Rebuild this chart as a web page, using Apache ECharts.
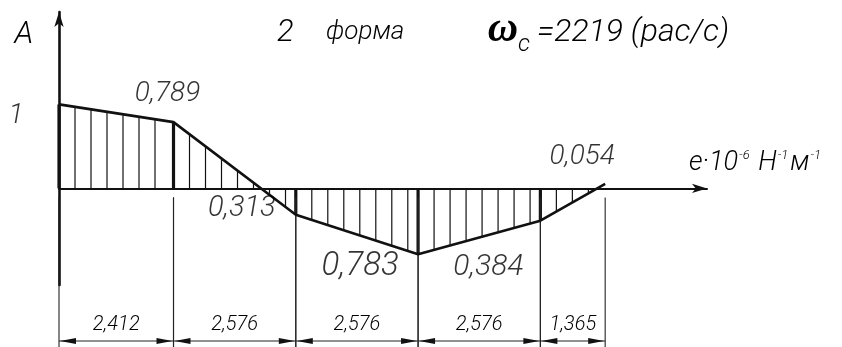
<!DOCTYPE html>
<html>
<head>
<meta charset="utf-8">
<script src="https://cdn.jsdelivr.net/npm/echarts@6/dist/echarts.min.js"></script>
<style>
  html, body { margin: 0; padding: 0; background: #fff; }
  #chart { width: 842px; height: 347px; }
</style>
</head>
<body>
<div id="chart"></div>
<script>
// Lengths of the shaft sections, in order from the left support
const segmentLengths = [2.412, 2.576, 2.576, 2.576, 1.365];
// Relative amplitude of the 2nd natural mode at each section boundary
const amplitudes = [1, 0.789, -0.313, -0.783, -0.384, 0.054];
// Natural frequency of this mode, rad/s
const omegaC = 2219;

// Section boundaries along the shaft axis
const stations = [0];
segmentLengths.forEach(function (len, i) { stations.push(+(stations[i] + len).toFixed(3)); });

const LINE = '#111';
const TEXT = '#000';
const FONT = 'Roboto, "Liberation Sans", sans-serif';
const NARROW = '"Liberation Sans Narrow", Roboto, sans-serif';

// Where each amplitude label sits relative to its point
const labelLayout = [
  { dx: -43, dy: 12, size: 28 },
  { dx: -6, dy: -28, size: 28 },
  { dx: -54, dy: -6, size: 29 },
  { dx: -58, dy: 13, size: 33 },
  { dx: -52, dy: 47, size: 30 },
  { dx: -23, dy: -27, size: 28 }
];

function fmt(v) {
  const a = Math.abs(v);
  return a === 1 ? '1' : a.toFixed(3).replace('.', ',');
}

const curveData = amplitudes.map(function (a, i) { return [stations[i], a]; });
const labelData = amplitudes.map(function (a, i) {
  const l = labelLayout[i];
  return {
    value: [stations[i], a],
    label: { offset: [l.dx, l.dy], fontSize: l.size }
  };
});
const segData = segmentLengths.map(function (len, i) {
  return [stations[i], amplitudes[i], stations[i + 1], amplitudes[i + 1], len];
});

const chart = echarts.init(document.getElementById('chart'), null, { renderer: 'canvas' });

// Vertical hatching inside the mode-shape area, plus thick lines at section boundaries
function renderHatch(params, api) {
  const xs = api.value(0), as = api.value(1), xe = api.value(2), ae = api.value(3);
  const p0 = api.coord([xs, as]);
  const p1 = api.coord([xe, ae]);
  const base = api.coord([xs, 0])[1];
  const step = 16;
  const children = [];
  for (let x = p0[0] + step; x < p1[0] - 5; x += step) {
    const t = (x - p0[0]) / (p1[0] - p0[0]);
    const y = p0[1] + t * (p1[1] - p0[1]);
    children.push({
      type: 'line',
      shape: { x1: x, y1: base, x2: x, y2: y },
      style: { stroke: LINE, lineWidth: 1.2 }
    });
  }
  children.push({
    type: 'line',
    shape: { x1: p0[0], y1: base, x2: p0[0], y2: p0[1] },
    style: { stroke: LINE, lineWidth: 3.2 }
  });
  return { type: 'group', children: children };
}

// Dimension chain under the diagram
function renderDims(params, api) {
  const xs = api.value(0), xe = api.value(2), len = api.value(4);
  const a = api.coord([xs, 0]);
  const b = api.coord([xe, 0]);
  const base = a[1];
  const dimY = 341, extTop = base + 9, extBottom = 347;
  const ah = 16, aw = 3;
  const children = [
    { type: 'line', shape: { x1: a[0], y1: extTop, x2: a[0], y2: extBottom }, style: { stroke: '#222', lineWidth: 1.1 } },
    { type: 'line', shape: { x1: b[0], y1: extTop, x2: b[0], y2: extBottom }, style: { stroke: '#222', lineWidth: 1.1 } },
    { type: 'line', shape: { x1: a[0], y1: dimY, x2: b[0], y2: dimY }, style: { stroke: '#222', lineWidth: 1.1 } },
    { type: 'polygon', shape: { points: [[a[0] + 1, dimY], [a[0] + 1 + ah, dimY - aw], [a[0] + 1 + ah, dimY + aw]] }, style: { fill: LINE } },
    { type: 'polygon', shape: { points: [[b[0] - 1, dimY], [b[0] - 1 - ah, dimY - aw], [b[0] - 1 - ah, dimY + aw]] }, style: { fill: LINE } },
    {
      type: 'text',
      style: {
        text: len.toFixed(3).replace('.', ','),
        x: (a[0] + b[0]) / 2, y: 325,
        align: 'center', verticalAlign: 'middle',
        textAlign: 'center', textVerticalAlign: 'middle',
        fontFamily: NARROW, fontStyle: 'italic', fontWeight: 300, fontSize: 20, fill: TEXT
      }
    }
  ];
  return { type: 'group', children: children };
}

function txt(text, x, y, size, align, extra) {
  const style = {
    text: text, x: x, y: y,
    align: align, verticalAlign: 'middle', textAlign: align, textVerticalAlign: 'middle',
    fontFamily: FONT, fontStyle: 'italic', fontWeight: 300, fontSize: size, fill: TEXT
  };
  if (extra) Object.assign(style, extra);
  return { type: 'text', style: style };
}

const option = {
  animation: false,
  backgroundColor: '#fff',
  grid: { left: 59, right: 135, top: 12, bottom: 62 },
  xAxis: {
    type: 'value', min: 0, max: 13.65,
    axisLine: {
      onZero: true, symbol: ['none', 'arrow'], symbolSize: [7, 15],
      lineStyle: { color: LINE, width: 2 }
    },
    axisTick: { show: false }, axisLabel: { show: false }, splitLine: { show: false }
  },
  yAxis: {
    type: 'value', min: -1.15, max: 2.1,
    axisLine: {
      show: true, onZero: true, symbol: ['none', 'arrow'], symbolSize: [7, 15],
      lineStyle: { color: LINE, width: 2.6 }
    },
    axisTick: { show: false }, axisLabel: { show: false }, splitLine: { show: false }
  },
  graphic: [
    txt('A', 24, 35, 31, 'center'),
    txt('2', 277, 33, 31, 'left'),
    txt('форма', 326, 32, 26, 'left'),
    txt('ω', 518, 30, 42, 'right', { fontFamily: '"Liberation Serif", "DejaVu Serif", serif', fontWeight: 'bold' }),
    txt('с', 518, 45, 24, 'left'),
    txt('=' + omegaC + ' (рас/с)', 537, 33, 32, 'left'),
    {
      type: 'text',
      style: {
        text: '{m|е·10}{s|-6}{m| Н}{s|-1}{m|м}{s|-1}',
        x: 689, y: 163, align: 'left', verticalAlign: 'middle', textAlign: 'left', textVerticalAlign: 'middle',
        fill: TEXT,
        rich: {
          m: { fontFamily: FONT, fontStyle: 'italic', fontWeight: 300, fontSize: 27, lineHeight: 28, verticalAlign: 'bottom', fill: TEXT, color: TEXT },
          s: { fontFamily: FONT, fontStyle: 'italic', fontWeight: 300, fontSize: 13, lineHeight: 13, verticalAlign: 'top', fill: TEXT, color: TEXT, padding: [0, 2, 0, 1] }
        }
      }
    }
  ],
  series: [
    {
      type: 'custom',
      renderItem: renderHatch,
      data: segData,
      clip: false,
      silent: true,
      z: 2
    },
    {
      type: 'custom',
      renderItem: renderDims,
      data: segData,
      clip: false,
      silent: true,
      z: 2
    },
    {
      type: 'line',
      data: curveData,
      symbol: 'none',
      lineStyle: { color: LINE, width: 2.6 },
      z: 4
    },
    {
      type: 'scatter',
      data: labelData,
      symbolSize: 1,
      itemStyle: { color: 'rgba(0,0,0,0)' },
      z: 5,
      label: {
        show: true,
        position: 'inside',
        formatter: function (p) { return fmt(p.value[1]); },
        fontFamily: FONT, fontStyle: 'italic', fontWeight: 300,
        color: TEXT,
        align: 'center', verticalAlign: 'middle'
      }
    }
  ]
};

chart.setOption(option);
</script>
</body>
</html>
